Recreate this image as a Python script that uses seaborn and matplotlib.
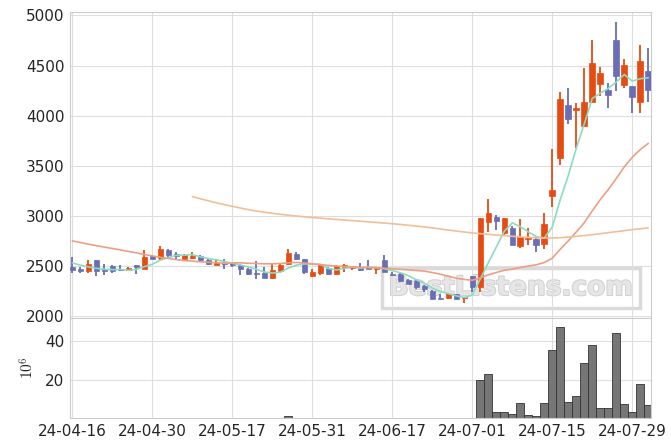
import matplotlib
matplotlib.use("Agg")
import numpy as np
import pandas as pd
import matplotlib.pyplot as plt
import matplotlib.patheffects as pe
import seaborn as sns

# eje x: dias de bolsa 0..72, etiquetas cada 10 dias
tick_pos = [0, 10, 20, 30, 40, 50, 60, 70]
tick_labels = ["24-04-16", "24-04-30", "24-05-17", "24-05-31",
               "24-06-17", "24-07-01", "24-07-15", "24-07-29"]

opens = [2488, 2472, 2448, 2555, 2472, 2495, 2472, 2458, 2505, 2472,
         2595, 2578, 2655, 2615, 2572, 2578, 2595, 2555, 2512, 2525,
         2532, 2512, 2468, 2428, 2428, 2378, 2448, 2515, 2622, 2565,
         2398, 2432, 2478, 2422, 2488, 2475, 2488, 2488, 2472, 2555,
         2422, 2415, 2362, 2345, 2295, 2248, 2182, 2182, 2215, 2175,
         2395, 2290, 2938, 2985, 2832, 2878, 2698, 2765, 2765, 2722,
         3198, 3578, 4105, 4058, 3898, 4132, 4312, 4255, 4755, 4308,
         4295, 4138, 4445]
highs = [2588, 2488, 2555, 2555, 2522, 2505, 2512, 2488, 2512, 2655,
         2605, 2698, 2672, 2638, 2622, 2638, 2605, 2565, 2555, 2565,
         2538, 2522, 2478, 2545, 2488, 2522, 2522, 2665, 2638, 2572,
         2465, 2512, 2488, 2505, 2522, 2498, 2528, 2562, 2488, 2605,
         2438, 2432, 2372, 2355, 2305, 2255, 2222, 2228, 2222, 2192,
         2400, 2978, 3165, 3012, 2978, 2895, 2965, 2882, 2798, 3028,
         3672, 4238, 4272, 4122, 4472, 4755, 4482, 4322, 4932, 4562,
         4295, 4705, 4672]
lows = [2428, 2432, 2432, 2398, 2405, 2432, 2452, 2452, 2415, 2472,
        2572, 2555, 2578, 2565, 2565, 2565, 2545, 2505, 2505, 2472,
        2488, 2405, 2412, 2372, 2378, 2372, 2445, 2505, 2555, 2422,
        2388, 2412, 2405, 2412, 2438, 2455, 2448, 2472, 2422, 2438,
        2395, 2338, 2315, 2272, 2238, 2165, 2165, 2172, 2165, 2128,
        2240, 2238, 2838, 2855, 2805, 2712, 2682, 2712, 2642, 2672,
        3088, 3512, 3912, 3682, 3882, 4132, 4195, 4072, 4245, 4272,
        4022, 4022, 4138]
closes = [2458, 2452, 2522, 2445, 2452, 2445, 2462, 2478, 2485, 2588,
          2572, 2665, 2605, 2595, 2605, 2595, 2555, 2522, 2528, 2518,
          2505, 2472, 2422, 2418, 2378, 2455, 2512, 2632, 2565, 2438,
          2438, 2505, 2422, 2495, 2512, 2498, 2462, 2472, 2488, 2438,
          2412, 2348, 2322, 2288, 2265, 2172, 2172, 2222, 2172, 2188,
          2290, 2978, 3032, 2952, 2978, 2712, 2788, 2778, 2712, 2915,
          3255, 4165, 3965, 4075, 4135, 4522, 4422, 4208, 4398, 4505,
          4188, 4545, 4255]

# medias moviles
ma5 = [2530, 2508, 2490, 2476, 2466, 2463, 2465, 2456, 2464, 2492,
       2517, 2558, 2583, 2605, 2608, 2613, 2591, 2574, 2561, 2544,
       2526, 2509, 2489, 2467, 2439, 2429, 2437, 2479, 2508, 2520,
       2517, 2516, 2474, 2460, 2474, 2486, 2478, 2488, 2486, 2472,
       2454, 2432, 2402, 2362, 2327, 2279, 2244, 2224, 2201, 2185,
       2209, 2370, 2532, 2688, 2846, 2930, 2892, 2840, 2792, 2779,
       2888, 3163, 3402, 3675, 3919, 4172, 4224, 4272, 4337, 4411,
       4344, 4369, 4378]
ma20 = [2750, 2733, 2717, 2702, 2688, 2674, 2660, 2645, 2630, 2614,
        2600, 2586, 2574, 2563, 2554, 2547, 2541, 2536, 2532, 2527,
        2530, 2531, 2526, 2524, 2521, 2521, 2524, 2531, 2535, 2528,
        2521, 2513, 2504, 2499, 2494, 2490, 2485, 2482, 2480, 2476,
        2472, 2466, 2461, 2454, 2448, 2434, 2417, 2397, 2377, 2365,
        2357, 2381, 2411, 2434, 2457, 2468, 2484, 2499, 2511, 2534,
        2577, 2667, 2750, 2839, 2932, 3050, 3162, 3262, 3373, 3489,
        3584, 3662, 3723]
ma120 = [np.nan] * 15 + [
        3192, 3170, 3150, 3130, 3112,
        3095, 3078, 3062, 3048, 3036, 3025, 3015, 3006, 2998, 2990,
        2983, 2976, 2970, 2964, 2958, 2952, 2946, 2940, 2934, 2928,
        2921, 2914, 2906, 2898, 2889, 2879, 2869, 2858, 2848, 2838,
        2829, 2822, 2815, 2808, 2802, 2796, 2790, 2785, 2781, 2779,
        2779, 2782, 2788, 2795, 2803, 2812, 2822, 2832, 2842, 2852,
        2862, 2871, 2880]

# volumen en millones
volume = [0.3, 0.3, 0.4, 0.3, 0.3, 0.2, 0.2, 0.3, 0.3, 0.5,
          0.4, 0.5, 0.4, 0.3, 0.3, 0.3, 0.3, 0.3, 0.3, 0.3,
          0.3, 0.3, 0.3, 0.3, 0.3, 0.4, 0.3, 1.4, 0.5, 0.4,
          0.3, 0.3, 0.3, 0.3, 0.3, 0.3, 0.3, 0.3, 0.3, 0.4,
          0.3, 0.3, 0.3, 0.3, 0.3, 0.4, 0.3, 0.3, 0.3, 0.3,
          0.5, 20, 23.2, 3.9, 3.9, 2.7, 8.5, 1.9, 1.4, 8.5,
          35.4, 47.1, 9, 12, 28.8, 38, 5.9, 5.9, 44, 8,
          3.9, 18.1, 7.5]

df = pd.DataFrame({"open": opens, "high": highs, "low": lows, "close": closes,
                   "ma5": ma5, "ma20": ma20, "ma120": ma120, "volume": volume})
df["idx"] = np.arange(len(df))

sns.set_theme(style="whitegrid")
plt.rcParams["font.family"] = ["Liberation Sans Narrow", "DejaVu Sans"]
plt.rcParams["mathtext.fontset"] = "cm"

UP = "#e64b14"
DOWN = "#6a6eb4"
GRID = "#dedede"

fig = plt.figure(figsize=(6.71, 4.47), dpi=100)
ax = fig.add_axes([0.1043, 0.2886, 0.8666, 0.6846])
axv = fig.add_axes([0.1043, 0.0649, 0.8666, 0.2237], sharex=ax)

# marca de agua
ax.text(0.758, 0.098, "BestListens.com", transform=ax.transAxes,
        ha="center", va="center", fontsize=19, fontweight="bold",
        family="DejaVu Sans", color="#e6e6e6", zorder=0,
        path_effects=[pe.withStroke(linewidth=1.5, foreground="#d2d2d2")],
        bbox=dict(boxstyle="square,pad=0.25", fc="none", ec="#dadada", lw=2.5))

up = df["close"] >= df["open"]
colors = np.where(up, UP, DOWN)
body_low = np.minimum(df["open"], df["close"])
body_h = np.maximum((df["close"] - df["open"]).abs(), 8)

ax.vlines(df["idx"], df["low"], df["high"], colors=colors, lw=1.3, zorder=2)
ax.bar(df["idx"], body_h, bottom=body_low, width=0.7, color=colors,
       edgecolor=colors, lw=0.5, zorder=3)

sns.lineplot(data=df, x="idx", y="ma5", ax=ax, color="#8cdcbe", lw=1.2, zorder=4)
sns.lineplot(data=df, x="idx", y="ma20", ax=ax, color="#eba082", lw=1.2, zorder=4)
sns.lineplot(data=df, x="idx", y="ma120", ax=ax, color="#f2be96", lw=1.2, zorder=4)

ax.set_xlim(-0.3, 72.4)
ax.set_ylim(1980, 5035)
ax.set_yticks([2000, 2500, 3000, 3500, 4000, 4500, 5000])
ax.set_xlabel("")
ax.set_ylabel("")
ax.tick_params(labelbottom=False, labelsize=11, length=0, pad=4)

sns.barplot(x=df["idx"], y=df["volume"], ax=axv, native_scale=True,
            color="#767676", edgecolor="#333333", linewidth=0.6, width=1.0,
            saturation=1)
axv.set_ylim(0.6, 51.8)
axv.set_yticks([20, 40])
axv.set_xticks(tick_pos)
axv.set_xticklabels(tick_labels)
axv.set_xlabel("")
axv.set_ylabel(r"$10^6$", fontsize=11, labelpad=6)
axv.tick_params(labelsize=11, length=0, pad=4)

for a in (ax, axv):
    a.grid(True, color=GRID, lw=0.8)
    a.set_axisbelow(True)
    for s in a.spines.values():
        s.set_color("#cccccc")
        s.set_linewidth(0.8)

plt.savefig("out.png", dpi=100)
